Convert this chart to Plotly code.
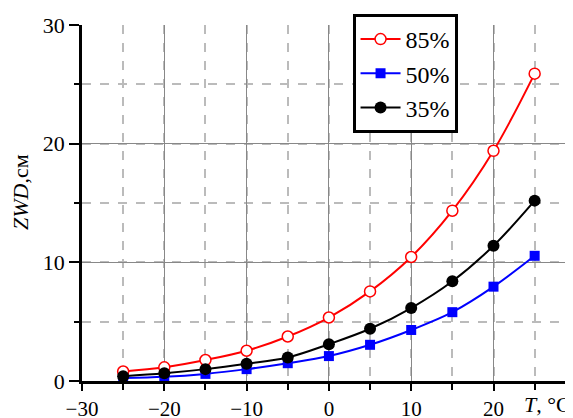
import plotly.graph_objects as go

temps = [-25, -20, -15, -10, -5, 0, 5, 10, 15, 20, 25]
zwd_85 = [0.8, 1.15, 1.77, 2.55, 3.75, 5.35, 7.55, 10.45, 14.35, 19.4, 25.9]
zwd_50 = [0.25, 0.35, 0.6, 1.0, 1.5, 2.1, 3.05, 4.3, 5.8, 7.95, 10.55]
zwd_35 = [0.4, 0.65, 1.0, 1.45, 1.98, 3.1, 4.4, 6.15, 8.4, 11.4, 15.2]
labels = ["85%", "50%", "35%"]

FONT = "Times New Roman"
fig = go.Figure()
fig.add_trace(go.Scatter(x=temps, y=zwd_85, name=labels[0], mode="lines+markers",
                         line=dict(color="red", width=2, shape="spline"),
                         marker=dict(symbol="circle", size=11, color="white",
                                     line=dict(color="red", width=1.5))))
fig.add_trace(go.Scatter(x=temps, y=zwd_50, name=labels[1], mode="lines+markers",
                         line=dict(color="blue", width=2, shape="spline"),
                         marker=dict(symbol="square", size=10, color="blue")))
fig.add_trace(go.Scatter(x=temps, y=zwd_35, name=labels[2], mode="lines+markers",
                         line=dict(color="black", width=2, shape="spline"),
                         marker=dict(symbol="circle", size=12, color="black")))

fig.update_layout(
    width=573, height=418,
    margin=dict(l=74, r=8, t=17, b=45, autoexpand=False),
    plot_bgcolor="white", paper_bgcolor="white",
    font=dict(family=FONT, size=22, color="black"),
    showlegend=True,
    legend=dict(x=0.551, y=1.031, xanchor="left", yanchor="top",
                bgcolor="white", bordercolor="black", borderwidth=3,
                font=dict(family=FONT, size=24), tracegroupgap=0,
                itemwidth=40),
)
fig.update_xaxes(range=[-30, 29.66], tickvals=[-30, -20, -10, 0, 10, 20],
                 ticks="outside", ticklen=7, tickwidth=2, tickcolor="black",
                 tickfont=dict(size=21),
                 showline=True, linecolor="black", linewidth=2.5, automargin=False,
                 showgrid=True, gridcolor="#888", gridwidth=1, zeroline=False,
                 ticklabelstandoff=0,
                 minor=dict(dtick=5, tick0=-25, ticks="outside", ticklen=6, tickwidth=2,
                            tickcolor="black", showgrid=True, gridcolor="#bbb",
                            gridwidth=1.5, griddash="dash"))
fig.update_yaxes(range=[0, 30], tickvals=[0, 10, 20, 30],
                 ticks="outside", ticklen=10, tickwidth=2, tickcolor="black",
                 showline=True, linecolor="black", linewidth=2.5, automargin=False,
                 showgrid=True, gridcolor="#888", gridwidth=1, zeroline=False,
                 minor=dict(dtick=5, tick0=5, ticks="outside", ticklen=5, tickwidth=2,
                            tickcolor="black", showgrid=True, gridcolor="#bbb",
                            gridwidth=1.5, griddash="dash"))

fig.add_annotation(text="<i>ZWD</i>,см", xref="paper", yref="paper",
                   x=-0.125, y=0.53, textangle=-90, showarrow=False,
                   font=dict(family=FONT, size=22), xanchor="center", yanchor="middle")
fig.add_annotation(text="<i>T</i>, °C", xref="paper", yref="paper",
                   x=1.0, y=-0.065, showarrow=False,
                   font=dict(family=FONT, size=22), xanchor="right", yanchor="middle")

fig.write_html("out.html")
